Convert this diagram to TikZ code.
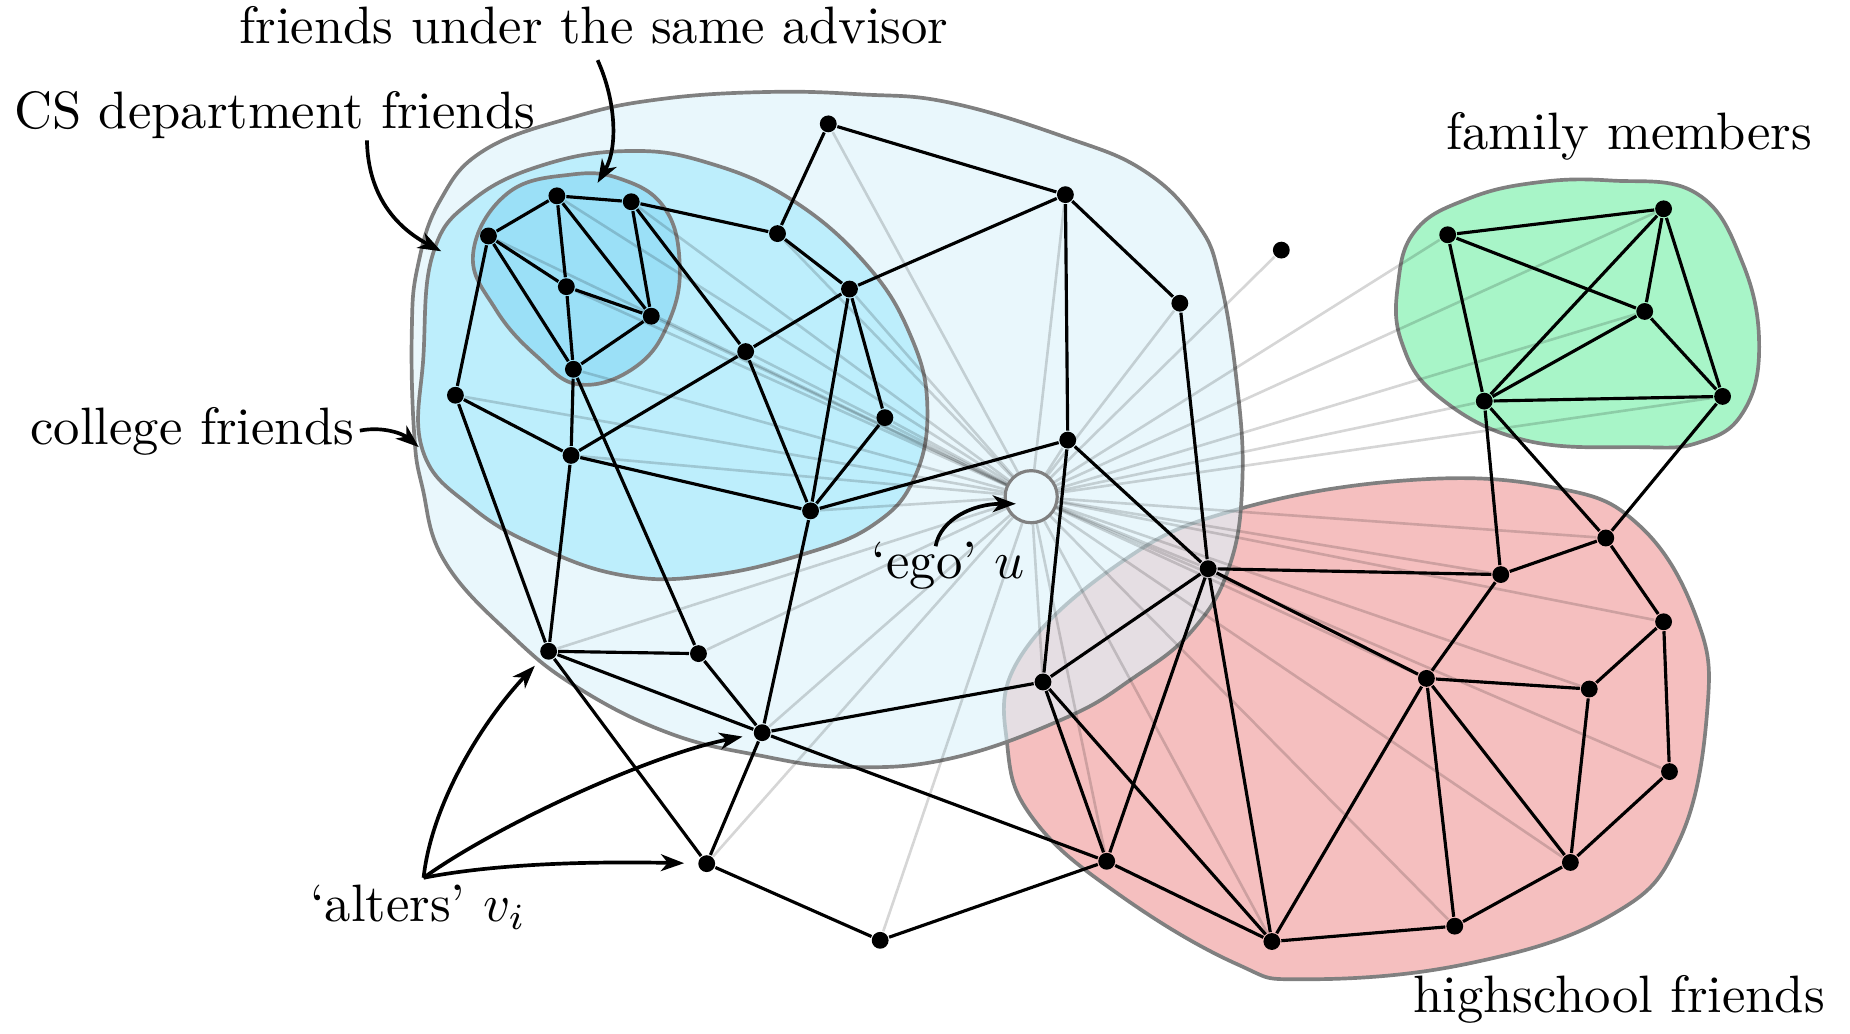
\documentclass[tikz,border=0pt]{standalone}
\usetikzlibrary{arrows.meta}
\definecolor{hsC}{RGB}{245,191,191}
\definecolor{colC}{RGB}{219,242,250}
\definecolor{csC}{RGB}{189,238,252}
\definecolor{advC}{RGB}{155,224,247}
\definecolor{famC}{RGB}{168,245,200}
\begin{document}
\begin{tikzpicture}[x=0.2242pt,y=-0.2242pt,
  vtx/.style={circle,fill=black,inner sep=0pt,minimum size=3.2pt},
  edge/.style={line width=0.6pt},
  spoke/.style={line width=0.5pt,draw=black,draw opacity=0.16},
  blob/.style={draw=black!50,line width=0.7pt},
  lab/.style={inner sep=0pt},
  arr/.style={line width=0.7pt,-{Stealth[length=4.4pt,width=3.2pt,inset=1.3pt]}}]
\useasboundingbox (0,0) rectangle (1568,876);

% ---------- groups ----------
\path[blob,fill=hsC] plot[smooth cycle,tension=0.7] coordinates {
  (1194,407) (1316,413) (1389,445) (1438,524) (1447,602) (1423,713) (1365,776)
  (1243,817) (1107,830) (1048,817) (951,760) (878,697) (854,634) (864,558)
  (951,476) (1048,432)};
\path[blob,fill=colC,fill opacity=0.61] plot[smooth cycle,tension=0.7] coordinates {
  (351,367) (349,282) (354,226) (373,170) (411,127) (487,99) (560,84) (649,78)
  (730,80) (805,87) (902,116) (970,145) (1015,190) (1034,237) (1048,322)
  (1053,407) (1042,480) (1010,535) (960,575) (902,609) (805,643) (717,650)
  (642,640) (566,621) (490,583) (434,539) (377,476) (358,413)};
\path[blob,fill=csC] plot[smooth cycle,tension=0.7] coordinates {
  (358,381) (359,300) (367,215) (400,170) (460,140) (533,128) (600,138)
  (672,170) (735,225) (772,285) (786,345) (775,405) (740,445) (680,470)
  (600,488) (530,488) (460,465) (400,430)};
\path[blob,fill=advC] plot[smooth cycle,tension=0.7] coordinates {
  (430,164) (484,148) (527,152) (563,176) (576,222) (568,270) (540,310)
  (492,326) (455,302) (420,262) (401,215)};
\path[blob,fill=famC] plot[smooth cycle,tension=0.7] coordinates {
  (1243,169) (1300,155) (1365,153) (1438,164) (1477,223) (1491,294) (1477,350)
  (1440,375) (1389,379) (1292,373) (1219,336) (1188,290) (1185,240) (1200,195)};

% ---------- ego ----------
\node[circle,draw=black!50,line width=0.6pt,minimum size=9.9pt,inner sep=0pt] (ego) at (874,421) {};

% ---------- vertices ----------
\foreach \n/\x/\y in {
 a1/472/166, a2/535/171, a3/414/200, a4/480/243, a5/552/268, a6/486/313,
 c1/659/198, c2/720/245, c3/632/298, c4/750/354, c5/386/335, c6/484/386, c7/687/433,
 l1/702/105, l2/903/165, l3/1000/257, l4/905/373, l5/1024/482, l6/884/578,
 l7/646/621, l8/465/552, l9/592/554,
 o1/1086/212, o2/599/732, o3/746/797,
 f1/1227/199, f2/1410/177, f3/1394/264, f4/1258/340, f5/1460/336,
 h1/1272/487, h2/1361/456, h3/1410/527, h4/1209/575, h5/1347/584,
 h6/1415/654, h7/1331/731, h8/1233/785, h9/1078/798, h10/938/730}
 {\node[vtx] (\n) at (\x,\y) {};}

% ---------- spokes ----------
\foreach \n in {a1,a2,a3,a4,a5,a6,c1,c2,c3,c4,c5,c6,c7,l1,l2,l3,l4,l5,l6,l7,l8,l9,
  o1,o2,o3,f1,f2,f3,f4,f5,h1,h2,h3,h4,h5,h6,h7,h8,h9,h10}
  {\draw[spoke] (ego) -- (\n);}

% ---------- edges ----------
\foreach \u/\v in {a3/a1,a1/a2,a3/a4,a3/a6,a1/a4,a1/a5,a2/a5,a4/a5,a4/a6,a6/a5,
  a2/c1,a2/c3,a3/c5,a6/c6,a6/l9,
  c1/l1,c1/c2,c2/l2,c2/c3,c2/c7,c2/c4,c4/c7,c3/c7,c3/c6,c5/c6,c6/c7,c5/l8,c6/l8,c7/l4,c7/l7,
  l1/l2,l2/l3,l2/l4,l3/l5,l4/l5,l4/l6,l8/l9,l8/l7,l8/o2,l9/l7,l7/l6,l7/o2,l7/h10,o2/o3,o3/h10,
  l5/l6,l5/h10,l5/h9,l5/h1,l5/h4,l6/h10,l6/h9,h10/h9,h9/h4,h9/h8,h4/h1,h4/h5,h4/h8,h4/h7,
  h1/h2,h2/h3,h3/h5,h3/h6,h5/h7,h6/h7,h8/h7,h1/f4,f4/h2,h2/f5,
  f1/f2,f1/f3,f1/f4,f2/f3,f2/f4,f2/f5,f3/f4,f3/f5,f4/f5}
  {\draw[edge] (\u) -- (\v);}

% ---------- labels ----------
\node[lab,anchor=base] (tadv) at (503.5,36.7) {friends under the same advisor};
\node[lab,anchor=base west] (tcs) at (11,108.8) {CS department friends};
\node[lab,anchor=base west] (tcol) at (25,376.5) {college friends};
\node[lab,anchor=base west] (tfam) at (1225,127) {family members};
\node[lab,anchor=base west] (tego) at (738,490.3) {`ego' $u$};
\node[lab,anchor=base west] (talt) at (262,781) {`alters' $v_i$};
\node[lab,anchor=base west] (ths) at (1197,858) {highschool friends};

% ---------- arrows ----------
\coordinate (advS) at (506.5,51);
\coordinate (advE) at (506.5,155);
\coordinate (csS) at (311,119);
\coordinate (csE) at (374,213);
\coordinate (colS) at (305,365);
\coordinate (colE) at (355,379);
\coordinate (egoS) at (793,463);
\coordinate (egoE) at (861,427);
\coordinate (altS) at (359,744);
\draw[arr] (advS) .. controls (522,85) and (524,125) .. (advE);
\draw[arr] (csS) .. controls (312,170) and (340,195) .. (csE);
\draw[arr] (colS) .. controls (325,361) and (342,368) .. (colE);
\draw[arr] (egoS) .. controls (797,440) and (825,427) .. (egoE);
\draw[arr,shorten >=2pt] (altS) .. controls (366,680) and (410,610) .. (l8);
\draw[arr,shorten >=2pt] (altS) .. controls (420,700) and (550,640) .. (l7);
\draw[arr,shorten >=2.5pt] (altS) .. controls (420,732) and (500,730) .. (o2);
\end{tikzpicture}
\end{document}
